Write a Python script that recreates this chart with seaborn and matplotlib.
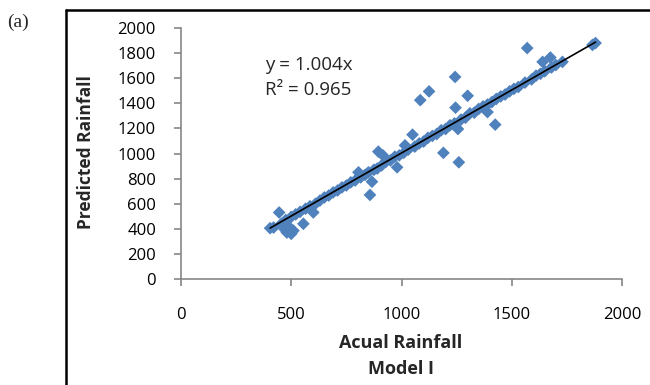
import numpy as np
import pandas as pd
import matplotlib
matplotlib.use("Agg")
import matplotlib.pyplot as plt
from matplotlib.lines import Line2D
import seaborn as sns

# ---- data ----
actual = [
    404, 445, 480, 500, 490, 510, 470, 555, 600, 857, 866, 805, 895, 916, 980,
    1016, 1050, 1085, 1125, 1190, 1243, 1260, 1245, 1300, 1390, 1425, 1256,
    1570, 1640, 1675, 1730, 1866, 1880,
    420, 455, 475, 500, 520, 540, 565, 585, 610, 630, 650, 670, 690, 710, 730,
    750, 770, 790, 815, 835, 850, 875, 890, 910, 930, 950, 970, 990, 1010,
    1030, 1060, 1080, 1100, 1120, 1140, 1160, 1180, 1200, 1220, 1240, 1270,
    1290, 1310, 1330, 1350, 1370, 1390, 1410, 1430, 1450, 1470, 1490, 1510,
    1530, 1560, 1590, 1610, 1630, 1650, 1680, 1700,
]
predicted = [
    405, 530, 370, 360, 415, 385, 395, 440, 530, 670, 775, 850, 1015, 985, 890,
    1065, 1150, 1425, 1495, 1005, 1610, 930, 1365, 1460, 1330, 1230, 1195,
    1840, 1730, 1765, 1730, 1865, 1880,
    410, 440, 470, 495, 515, 535, 560, 580, 600, 625, 650, 665, 690, 705, 730,
    745, 770, 785, 810, 830, 850, 870, 880, 905, 935, 945, 975, 985, 1005,
    1030, 1055, 1080, 1095, 1125, 1140, 1155, 1185, 1195, 1225, 1240, 1270,
    1285, 1320, 1325, 1355, 1375, 1390, 1410, 1435, 1455, 1470, 1495, 1515,
    1530, 1565, 1590, 1620, 1635, 1655, 1685, 1705,
]
slope = 1.004
r2 = 0.965
x_ticks = [0, 500, 1000, 1500, 2000]
y_ticks = [0, 200, 400, 600, 800, 1000, 1200, 1400, 1600, 1800, 2000]

df = pd.DataFrame({"Actual": actual, "Predicted": predicted})
xmin, xmax = min(actual), max(actual)
fit = pd.DataFrame({"x": [xmin, xmax], "y": [slope * xmin, slope * xmax]})

sns.set_style("white")
plt.rcParams["font.family"] = ["Open Sans", "DejaVu Sans"]

fig = plt.figure(figsize=(6.5, 3.85), dpi=100)
ax = fig.add_axes([181 / 650, 1 - 279 / 385, 441 / 650, 251 / 385])

sns.scatterplot(data=df, x="Actual", y="Predicted", ax=ax, marker="D",
                color="#4F81BD", s=42, edgecolor="none", linewidth=0, zorder=2)
sns.lineplot(data=fit, x="x", y="y", ax=ax, color="black", linewidth=1.2,
             zorder=3)

ax.set_xlim(0, 2000)
ax.set_ylim(0, 2000)
ax.set_xticks(x_ticks)
ax.set_yticks(y_ticks)
ax.set_xticklabels([str(v) for v in x_ticks])
ax.set_yticklabels([str(v) for v in y_ticks])
ax.set_xlabel("")
ax.set_ylabel("")

grey = "#868686"
for side in ["top", "right"]:
    ax.spines[side].set_visible(False)
for side in ["left", "bottom"]:
    ax.spines[side].set_color(grey)
    ax.spines[side].set_linewidth(1.2)
ax.tick_params(axis="both", direction="out", length=5, width=1.2, color=grey,
               labelsize=12, labelcolor="black")
ax.tick_params(axis="x", pad=15)
ax.tick_params(axis="y", pad=13)
ax.tick_params(axis="both", which="both", bottom=True, left=True)

ax.text(0.19, 0.853, "y = 1.004x", transform=ax.transAxes, fontsize=13.5,
        va="center", ha="left")
ax.text(0.19, 0.753, "R\u00b2 = 0.965", transform=ax.transAxes, fontsize=13.5,
        va="center", ha="left")

fig.text(401 / 650, 1 - 343 / 385, "Acual Rainfall", fontsize=13,
         fontweight="bold", ha="center", va="center")
fig.text(401 / 650, 1 - 369 / 385, "Model I", fontsize=13,
         fontweight="bold", ha="center", va="center")
fig.text(86 / 650, 1 - 152 / 385, "Predicted Rainfall", fontsize=12.5,
         fontweight="bold", ha="center", va="center", rotation=90)
fig.text(7 / 650, 1 - 22 / 385, "(a)", fontsize=14,
         family=["Liberation Serif", "DejaVu Serif"], ha="left", va="center")

# outer frame (left and top)
fig.add_artist(Line2D([66 / 650, 66 / 650], [0, 1 - 10 / 385],
                      transform=fig.transFigure, color="black", linewidth=1.8))
fig.add_artist(Line2D([66 / 650, 1], [1 - 10 / 385, 1 - 10 / 385],
                      transform=fig.transFigure, color="black", linewidth=1.8))

fig.savefig("out.png", dpi=100)
